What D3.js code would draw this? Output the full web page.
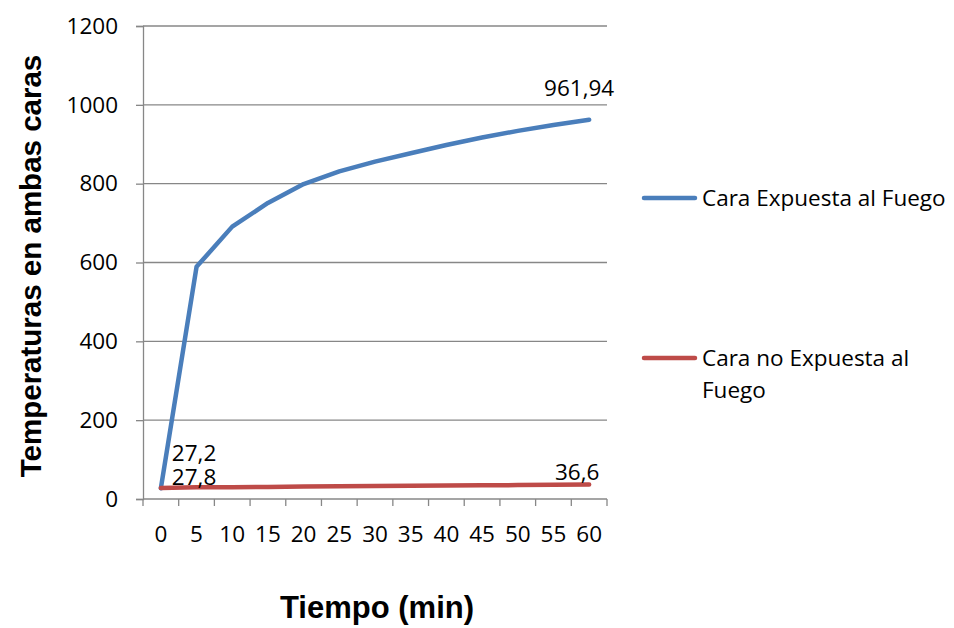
<!DOCTYPE html>
<html>
<head>
<meta charset="utf-8">
<script src="https://cdn.jsdelivr.net/npm/d3@7"></script>
<style>
  html, body { margin: 0; padding: 0; background: #ffffff; }
  svg { display: block; }
</style>
</head>
<body>
<svg id="chart" width="954" height="628"></svg>
<script>
// Tiempo (min) de ensayo
const minutos = ["0", "5", "10", "15", "20", "25", "30", "35", "40", "45", "50", "55", "60"];
// Temperatura en la cara expuesta al fuego (°C)
const caraExpuesta = [27.2, 589, 691, 751, 799, 831, 856, 877, 898, 917, 934, 949, 961.94];
// Temperatura en la cara no expuesta al fuego (°C)
const caraNoExpuesta = [27.8, 29.5, 30, 30.5, 31.5, 32.5, 33, 33.5, 34, 34.8, 35.3, 36, 36.6];
const yTicks = [0, 200, 400, 600, 800, 1000, 1200];
const serieNombres = ["Cara Expuesta al Fuego", "Cara no Expuesta al Fuego"];

const colores = ["#4a7ebb", "#be4b48"];
const font = "'Open Sans', 'Noto Sans', sans-serif";
const titleFont = "'Liberation Sans', Arial, sans-serif";
const fs = 22.5;
const gridColor = "#878787";

const svg = d3.select("#chart");
const plot = { left: 143, right: 607, top: 26, bottom: 499 };

const x = d3.scaleBand().domain(minutos).range([plot.left, plot.right]).padding(0);
const y = d3.scaleLinear().domain([0, 1200]).range([plot.bottom, plot.top]);

// horizontal gridlines
svg.append("g")
  .selectAll("line")
  .data(yTicks.filter(d => d > 0))
  .join("line")
  .attr("x1", plot.left).attr("x2", plot.right)
  .attr("y1", d => y(d)).attr("y2", d => y(d))
  .attr("stroke", gridColor).attr("stroke-width", 1.3);

// value axis
const yAxis = svg.append("g")
  .attr("transform", `translate(${plot.left},0)`)
  .call(d3.axisLeft(y).tickValues(yTicks).tickSize(7).tickPadding(18).tickFormat(d3.format("d")));
yAxis.select(".domain").attr("stroke", gridColor).attr("stroke-width", 1.3);
yAxis.selectAll(".tick line").attr("stroke", gridColor).attr("stroke-width", 1.3);
yAxis.selectAll(".tick text")
  .attr("font-family", font).attr("font-size", fs).attr("fill", "#000");

// category axis with ticks between categories
const xAxis = svg.append("g")
  .attr("transform", `translate(0,${plot.bottom})`);
xAxis.append("line")
  .attr("x1", plot.left).attr("x2", plot.right)
  .attr("y1", 0).attr("y2", 0)
  .attr("stroke", gridColor).attr("stroke-width", 1.3);
const bounds = minutos.map(m => x(m)).concat([x(minutos[minutos.length - 1]) + x.bandwidth()]);
xAxis.selectAll("line.tk")
  .data(bounds)
  .join("line")
  .attr("class", "tk")
  .attr("x1", d => d).attr("x2", d => d)
  .attr("y1", 0).attr("y2", 7)
  .attr("stroke", gridColor).attr("stroke-width", 1.3);
xAxis.selectAll("text")
  .data(minutos)
  .join("text")
  .attr("x", d => x(d) + x.bandwidth() / 2)
  .attr("y", 43)
  .attr("text-anchor", "middle")
  .attr("font-family", font).attr("font-size", fs).attr("fill", "#000")
  .text(d => d);

// series lines
const line = d3.line()
  .x((d, i) => x(minutos[i]) + x.bandwidth() / 2)
  .y(d => y(d));

[caraExpuesta, caraNoExpuesta].forEach((serie, k) => {
  svg.append("path")
    .datum(serie)
    .attr("d", line)
    .attr("fill", "none")
    .attr("stroke", colores[k])
    .attr("stroke-width", 4.5)
    .attr("stroke-linejoin", "round")
    .attr("stroke-linecap", "round");
});

// data labels (first and last points)
const fmt = v => String(v).replace(".", ",");
const cx = i => x(minutos[i]) + x.bandwidth() / 2;
const last = minutos.length - 1;
const etiquetas = [
  { v: caraExpuesta[0], x: cx(0) + 11, y: y(caraExpuesta[0]) - 27, anchor: "start" },
  { v: caraNoExpuesta[0], x: cx(0) + 11, y: y(caraNoExpuesta[0]) - 3, anchor: "start" },
  { v: caraExpuesta[last], x: cx(last) - 10, y: y(caraExpuesta[last]) - 24, anchor: "middle" },
  { v: caraNoExpuesta[last], x: cx(last) - 12, y: y(caraNoExpuesta[last]) - 5, anchor: "middle" }
];
svg.append("g")
  .selectAll("text")
  .data(etiquetas)
  .join("text")
  .attr("x", d => d.x).attr("y", d => d.y)
  .attr("text-anchor", d => d.anchor)
  .attr("font-family", font).attr("font-size", fs).attr("fill", "#000")
  .text(d => fmt(d.v));

// legend
const legend = svg.append("g");
const legendItems = [
  { y: 198, lines: ["Cara Expuesta al Fuego"] },
  { y: 358, lines: ["Cara no Expuesta al", "Fuego"] }
];
legendItems.forEach((it, k) => {
  legend.append("line")
    .attr("x1", 644).attr("x2", 695)
    .attr("y1", it.y).attr("y2", it.y)
    .attr("stroke", colores[k]).attr("stroke-width", 4.5)
    .attr("stroke-linecap", "round");
  const t = legend.append("text")
    .attr("x", 702).attr("y", it.y + 8)
    .attr("font-family", font).attr("font-size", fs).attr("fill", "#000");
  it.lines.forEach((s, j) => {
    t.append("tspan").attr("x", 702).attr("dy", j === 0 ? 0 : 32).text(s);
  });
});

// axis titles
svg.append("text")
  .attr("x", 377).attr("y", 618)
  .attr("text-anchor", "middle")
  .attr("font-family", titleFont)
  .attr("font-weight", "bold").attr("font-size", 31).attr("fill", "#000")
  .text("Tiempo (min)");

svg.append("text")
  .attr("transform", "translate(41,266) rotate(-90)")
  .attr("text-anchor", "middle")
  .attr("font-family", titleFont)
  .attr("font-weight", "bold").attr("font-size", 29.5).attr("fill", "#000")
  .text("Temperaturas en ambas caras");
</script>
</body>
</html>
